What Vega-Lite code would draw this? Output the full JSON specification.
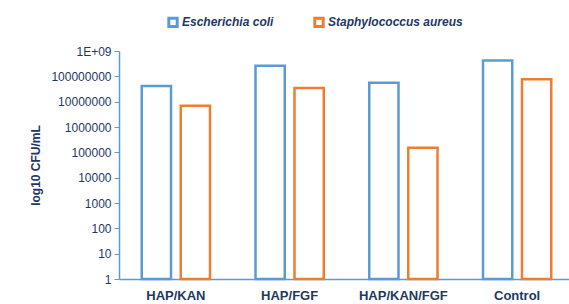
{
  "$schema": "https://vega.github.io/schema/vega-lite/v6.json",
  "width": 455,
  "height": 228,
  "autosize": {"type": "none"},
  "padding": {"left": 119, "top": 51, "right": 0, "bottom": 25},
  "background": "white",
  "config": {
    "view": {"stroke": null},
    "font": "Liberation Sans"
  },
  "data": {
    "values": [
      {"group": "HAP/KAN", "species": "Escherichia coli", "cfu": 42000000},
      {"group": "HAP/KAN", "species": "Staphylococcus aureus", "cfu": 6900000},
      {"group": "HAP/FGF", "species": "Escherichia coli", "cfu": 260000000},
      {"group": "HAP/FGF", "species": "Staphylococcus aureus", "cfu": 35000000},
      {"group": "HAP/KAN/FGF", "species": "Escherichia coli", "cfu": 56000000},
      {"group": "HAP/KAN/FGF", "species": "Staphylococcus aureus", "cfu": 150000},
      {"group": "Control", "species": "Escherichia coli", "cfu": 420000000},
      {"group": "Control", "species": "Staphylococcus aureus", "cfu": 76000000}
    ]
  },
  "mark": {"type": "bar", "fill": "white", "strokeWidth": 2.5, "strokeJoin": "miter"},
  "encoding": {
    "x": {
      "field": "group",
      "type": "nominal",
      "sort": ["HAP/KAN", "HAP/FGF", "HAP/KAN/FGF", "Control"],
      "scale": {"paddingInner": 0.4, "paddingOuter": 0.2},
      "axis": {
        "title": null,
        "labelAngle": 0,
        "ticks": false,
        "domainColor": "#5B9BD5",
        "domainWidth": 1.5,
        "labelFont": "Liberation Sans",
        "labelFontWeight": "bold",
        "labelFontSize": 13,
        "labelColor": "#1F3864",
        "labelPadding": 10
      }
    },
    "xOffset": {
      "field": "species",
      "type": "nominal",
      "sort": ["Escherichia coli", "Staphylococcus aureus"],
      "scale": {"paddingInner": 0.25}
    },
    "y": {
      "field": "cfu",
      "type": "quantitative",
      "scale": {"type": "log", "domain": [1, 1000000000]},
      "axis": {
        "title": "log10 CFU/mL",
        "titleFont": "Liberation Sans",
        "titleFontWeight": "bold",
        "titleFontSize": 12,
        "titleColor": "#1F3864",
        "titleX": -84,
        "titleY": 114,
        "titleAngle": -90,
        "titleAlign": "center",
        "titleBaseline": "middle",
        "values": [1, 10, 100, 1000, 10000, 100000, 1000000, 10000000, 100000000, 1000000000],
        "labelExpr": "datum.value >= 1e9 ? '1E+09' : format(datum.value, 'd')",
        "grid": false,
        "domainColor": "#5B9BD5",
        "domainWidth": 1.5,
        "tickColor": "#5B9BD5",
        "tickSize": 5,
        "labelPadding": 3,
        "labelFont": "Liberation Sans",
        "labelFontSize": 12,
        "labelColor": "#1F3864"
      }
    },
    "y2": {"datum": 1},
    "stroke": {
      "field": "species",
      "type": "nominal",
      "sort": ["Escherichia coli", "Staphylococcus aureus"],
      "scale": {"range": ["#5B9BD5", "#ED7D31"]},
      "legend": {
        "title": null,
        "orient": "none",
        "direction": "horizontal",
        "legendX": 48,
        "legendY": -35,
        "symbolType": "square",
        "symbolFillColor": "white",
        "symbolStrokeWidth": 3,
        "symbolSize": 70,
        "columnPadding": 34,
        "labelFont": "Liberation Sans",
        "labelFontWeight": "bold",
        "labelFontStyle": "italic",
        "labelFontSize": 12,
        "labelColor": "#1F3864",
        "labelOffset": 3
      }
    }
  }
}
